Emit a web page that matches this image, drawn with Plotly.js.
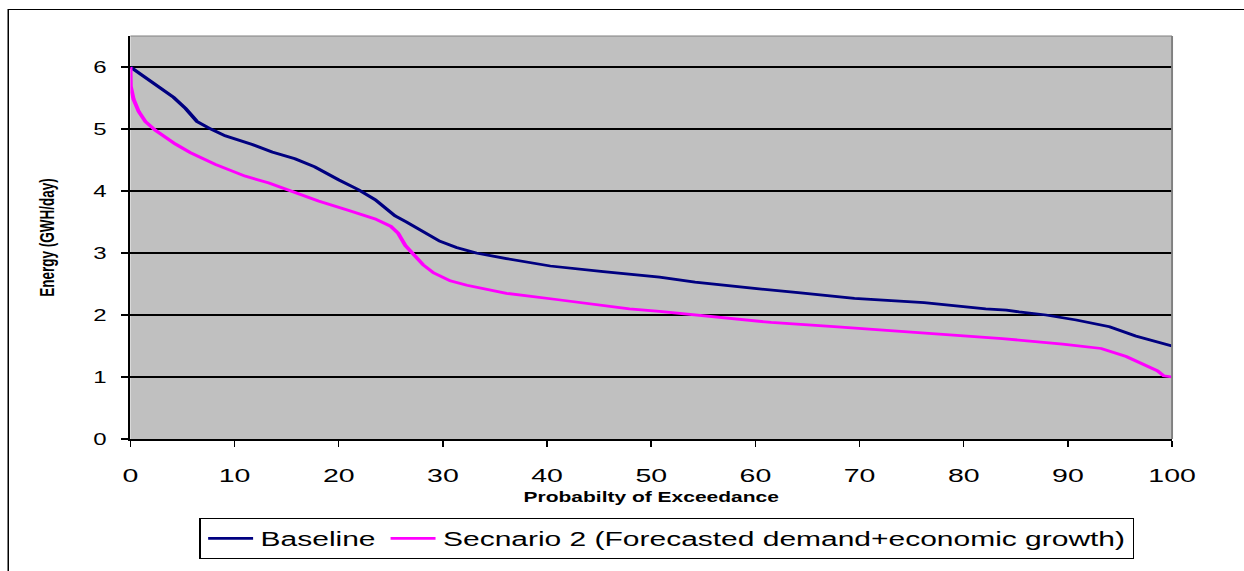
<!DOCTYPE html>
<html>
<head>
<meta charset="utf-8">
<script src="https://cdn.plot.ly/plotly-3.0.1.min.js"></script>
<style>
  html, body { margin: 0; padding: 0; background: #fff; overflow: hidden; }
  #wrap { position: relative; width: 1244px; height: 571px; overflow: hidden; }
  #stage { position: absolute; left: 0; top: 0; width: 830px; height: 571px; transform-origin: 0 0; }
  #chart { position: absolute; left: 0; top: 0; width: 830px; height: 571px; }
  #frame { position: absolute; left: 5px; top: 8.5px; width: 900px; height: 700px;
           border: 1px solid #000; box-sizing: border-box; pointer-events: none; }
</style>
</head>
<body>
<div id="wrap">
  <div id="stage">
    <div id="chart"></div>
    <div id="frame"></div>
  </div>
</div>
<script>
// Probability of exceedance (%) and energy (GWH/day)
const baselineX = [0, 2.1, 4.15, 5.3, 6.4, 7.7, 9.1, 11.7, 13.6, 15.8, 17.7, 20.0, 21.9, 23.5, 25.4, 26.5, 27.8, 29.7, 31.3, 33.2, 36.1, 40.3, 45.4, 50.8, 54.2, 58.3, 59.9, 64.1, 69.5, 76.2, 82.1, 84.1, 85.3, 87.9, 90.8, 94.0, 96.5, 100];
const baselineY = [6.0, 5.75, 5.51, 5.33, 5.12, 5.0, 4.89, 4.75, 4.63, 4.52, 4.39, 4.18, 4.02, 3.86, 3.60, 3.50, 3.37, 3.19, 3.09, 3.0, 2.91, 2.79, 2.70, 2.61, 2.53, 2.45, 2.43, 2.36, 2.27, 2.20, 2.10, 2.08, 2.05, 2.0, 1.92, 1.81, 1.66, 1.50];

const scenarioX = [0, 0.03, 0.3, 0.8, 1.44, 2.4, 4.3, 5.75, 8.15, 11.0, 13.3, 15.5, 18.05, 20.9, 23.5, 25.0, 25.7, 26.4, 27.3, 28.1, 29.1, 30.7, 32.3, 36.1, 40.9, 45.4, 47.9, 50.8, 56.7, 61.5, 67.9, 76.2, 83.7, 89.5, 93.2, 95.6, 97.2, 98.6, 99.2, 100];
const scenarioY = [6.0, 5.69, 5.48, 5.28, 5.12, 4.98, 4.76, 4.62, 4.43, 4.24, 4.13, 3.99, 3.84, 3.69, 3.55, 3.43, 3.32, 3.12, 2.96, 2.81, 2.68, 2.55, 2.48, 2.35, 2.25, 2.16, 2.10, 2.06, 1.955, 1.88, 1.81, 1.71, 1.62, 1.53, 1.46, 1.33, 1.21, 1.10, 1.02, 1.0];

const seriesNames = ["Baseline", "Secnario 2 (Forecasted demand+economic growth)"];
const xTickVals = [0, 10, 20, 30, 40, 50, 60, 70, 80, 90, 100];
const yTickVals = [0, 1, 2, 3, 4, 5, 6];

const FONT = "Arial, 'Liberation Sans', sans-serif";
// The reference picture is a chart stretched sideways; draw at a narrower width and stretch it the same way.
const PAGE_W = 1244, PLOT_W = 830, STRETCH = PAGE_W / PLOT_W;

const traces = [
  { x: baselineX, y: baselineY, name: seriesNames[0], type: "scatter", mode: "lines",
    line: { color: "#000080", width: 2.75 } },
  { x: scenarioX, y: scenarioY, name: seriesNames[1], type: "scatter", mode: "lines",
    line: { color: "#FF00FF", width: 2.75 } }
];

const layout = {
  width: PLOT_W, height: 571,
  margin: { l: 130 / STRETCH, r: PLOT_W - 1172.7 / STRETCH, t: 36, b: 114.5 },
  paper_bgcolor: "rgba(0,0,0,0)",
  plot_bgcolor: "#C0C0C0",
  font: { family: FONT, color: "#000" },
  showlegend: true,
  legend: {
    orientation: "h", x: 0.066, xanchor: "left", y: -0.196, yanchor: "top",
    bgcolor: "#fff", bordercolor: "#000", borderwidth: 1,
    font: { family: FONT, size: 20, color: "#000" },
    tracegroupgap: 0
  },
  xaxis: {
    range: [0, 100], tickvals: xTickVals, ticktext: xTickVals.map(String),
    showgrid: false, zeroline: false,
    showline: true, linecolor: "#000", linewidth: 1.5,
    ticks: "outside", ticklen: 6.5, tickwidth: 1, tickcolor: "#000",
    ticklabelstandoff: 12,
    tickfont: { family: FONT, size: 19, color: "#000" },
    title: { text: "Probabilty of Exceedance", font: { family: FONT, size: 14, color: "#000", weight: "bold" }, standoff: 7 },
    automargin: false, fixedrange: true
  },
  yaxis: {
    range: [0, 6.5], tickvals: yTickVals, ticktext: yTickVals.map(String),
    showgrid: true, gridcolor: "#000", gridwidth: 1.1,
    zeroline: false,
    showline: true, linecolor: "#000", linewidth: 1.3,
    ticks: "outside", ticklen: 5.3, tickwidth: 1.3, tickcolor: "#000",
    ticklabelstandoff: 6,
    tickfont: { family: FONT, size: 16, color: "#000" },
    title: { text: "Energy (GWH/day)", font: { family: FONT, size: 13.5, color: "#000", weight: "bold" }, standoff: 22 },
    automargin: false, fixedrange: true
  },
  shapes: [
    { type: "line", xref: "paper", yref: "paper", x0: 0, x1: 1, y0: 1, y1: 1, line: { color: "#808080", width: 1.2 }, layer: "above" },
    { type: "line", xref: "paper", yref: "paper", x0: 1, x1: 1, y0: 0, y1: 1, line: { color: "#808080", width: 1.3 }, layer: "above" }
  ]
};

Plotly.newPlot("chart", traces, layout, { displayModeBar: false, staticPlot: true }).then(function () {
  document.getElementById("stage").style.transform = "scaleX(" + STRETCH + ")";
});
</script>
</body>
</html>
